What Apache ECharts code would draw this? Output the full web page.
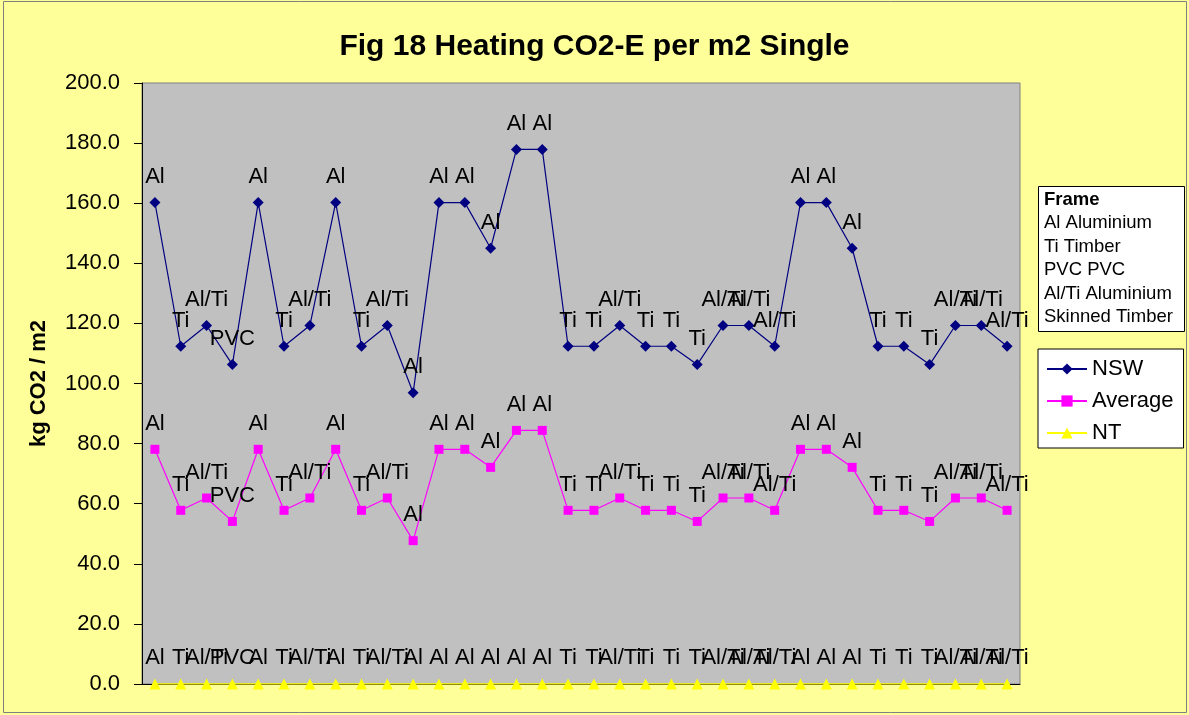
<!DOCTYPE html>
<html>
<head>
<meta charset="utf-8">
<title>Fig 18 Heating CO2-E per m2 Single</title>
<script src="https://cdn.jsdelivr.net/npm/echarts@6/dist/echarts.min.js"></script>
<style>
	html, body { margin: 0; padding: 0; background: #ffff99; }
	#chart { width: 1189px; height: 715px; }
</style>
</head>
<body>
<div id="chart"></div>
<script>
	// frame type of each window (used as the data labels)
	const frames = ['Al', 'Ti', 'Al/Ti', 'PVC', 'Al', 'Ti', 'Al/Ti', 'Al', 'Ti', 'Al/Ti',
		'Al', 'Al', 'Al', 'Al', 'Al', 'Al', 'Ti', 'Ti', 'Al/Ti', 'Ti',
		'Ti', 'Ti', 'Al/Ti', 'Al/Ti', 'Al/Ti', 'Al', 'Al', 'Al', 'Ti', 'Ti',
		'Ti', 'Al/Ti', 'Al/Ti', 'Al/Ti']

	const nswValues = [160.2, 112.4, 119.3, 106.3, 160.2, 112.4, 119.3, 160.2, 112.4, 119.3,
		96.9, 160.2, 160.2, 145.0, 177.9, 177.9, 112.4, 112.4, 119.3, 112.4,
		112.4, 106.3, 119.3, 119.3, 112.4, 160.2, 160.2, 145.0, 112.4, 112.4,
		106.3, 119.3, 119.3, 112.4]

	const averageValues = [78.1, 57.8, 61.9, 54.1, 78.1, 57.8, 61.9, 78.1, 57.8, 61.9,
		47.7, 78.1, 78.1, 72.1, 84.4, 84.4, 57.8, 57.8, 61.9, 57.8,
		57.8, 54.1, 61.9, 61.9, 57.8, 78.1, 78.1, 72.1, 57.8, 57.8,
		54.1, 61.9, 61.9, 57.8]

	const ntValues = [0, 0, 0, 0, 0, 0, 0, 0, 0, 0,
		0, 0, 0, 0, 0, 0, 0, 0, 0, 0,
		0, 0, 0, 0, 0, 0, 0, 0, 0, 0,
		0, 0, 0, 0]

	const frameKey = ['Al Aluminium', 'Ti Timber', 'PVC PVC', 'Al/Ti Aluminium', 'Skinned Timber']

	const categories = frames.map((f, i) => String(i + 1))

	const font = 'Liberation Sans, Arial, Helvetica, sans-serif'

	const chart = echarts.init(document.getElementById('chart'), null, { renderer: 'canvas' })

	// label above each point shows the frame type
	const frameLabel = (distance) => ({
		show: true,
		position: 'top',
		distance: distance,
		color: '#000',
		fontFamily: font,
		fontSize: 22,
		formatter: (p) => frames[p.dataIndex]
	})

	const option = {
		backgroundColor: '#ffff99',
		animation: false,
		title: [
			{
				text: 'Fig 18 Heating CO2-E per m2 Single',
				left: 'center',
				top: 27,
				textStyle: {
					fontFamily: font,
					fontSize: 30,
					fontWeight: 'bold',
					color: '#000'
				}
			},
			{
				text: '{b|Frame}\n' + frameKey.join('\n'),
				left: 1038,
				top: 186,
				backgroundColor: '#fff',
				borderColor: '#000',
				borderWidth: 1,
				padding: [2, 12, 3, 6],
				textStyle: {
					fontFamily: font,
					fontSize: 18.5,
					fontWeight: 'normal',
					color: '#000',
					lineHeight: 23.5,
					rich: {
						b: { fontFamily: font, fontSize: 18.5, fontWeight: 'bold', lineHeight: 23.5 }
					}
				}
			}
		],
		legend: {
			orient: 'vertical',
			left: 1038,
			top: 349,
			padding: [9, 10, 4, 8],
			itemGap: 10,
			itemWidth: 40,
			itemHeight: 14,
			backgroundColor: '#fff',
			borderColor: '#000',
			borderWidth: 1,
			textStyle: { fontFamily: font, fontSize: 22, color: '#000' },
			data: ['NSW', 'Average', 'NT']
		},
		grid: {
			left: 142,
			top: 83,
			right: 169,
			bottom: 31,
			show: true,
			backgroundColor: '#c0c0c0',
			borderColor: '#808080',
			borderWidth: 1
		},
		xAxis: {
			type: 'category',
			data: categories,
			boundaryGap: true,
			axisLine: { show: true, lineStyle: { color: '#000', width: 1 } },
			axisTick: { show: false },
			axisLabel: { show: false },
			splitLine: { show: false }
		},
		yAxis: {
			type: 'value',
			min: 0,
			max: 200,
			interval: 20,
			name: 'kg CO2 / m2',
			nameLocation: 'middle',
			nameGap: 92,
			nameTextStyle: { fontFamily: font, fontSize: 22, fontWeight: 'bold', color: '#000' },
			axisLine: { show: true, lineStyle: { color: '#000', width: 1 } },
			axisTick: { show: true, inside: false, length: 8, lineStyle: { color: '#000' } },
			axisLabel: {
				margin: 22,
				fontFamily: font,
				fontSize: 22,
				color: '#000',
				formatter: (v) => v.toFixed(1)
			},
			splitLine: { show: false }
		},
		series: [
			{
				name: 'NSW',
				type: 'line',
				data: nswValues,
				symbol: 'diamond',
				symbolSize: 11,
				itemStyle: { color: '#000080' },
				lineStyle: { color: '#000080', width: 1.2 },
				label: frameLabel(9),
				z: 3
			},
			{
				name: 'Average',
				type: 'line',
				data: averageValues,
				symbol: 'rect',
				symbolSize: 9,
				itemStyle: { color: '#ff00ff' },
				lineStyle: { color: '#ff00ff', width: 1.2 },
				label: frameLabel(10),
				z: 3
			},
			{
				name: 'NT',
				type: 'line',
				data: ntValues,
				symbol: 'triangle',
				symbolSize: 11,
				itemStyle: { color: '#ffff00' },
				lineStyle: { color: '#ffff00', width: 1.5 },
				label: frameLabel(10),
				z: 3
			}
		],
		graphic: [
			{
				type: 'rect',
				shape: { x: 3.5, y: 1.5, width: 1183, height: 711 },
				style: { fill: null, stroke: '#808080', lineWidth: 1 },
				silent: true
			}
		]
	}

	chart.setOption(option)
</script>
</body>
</html>
